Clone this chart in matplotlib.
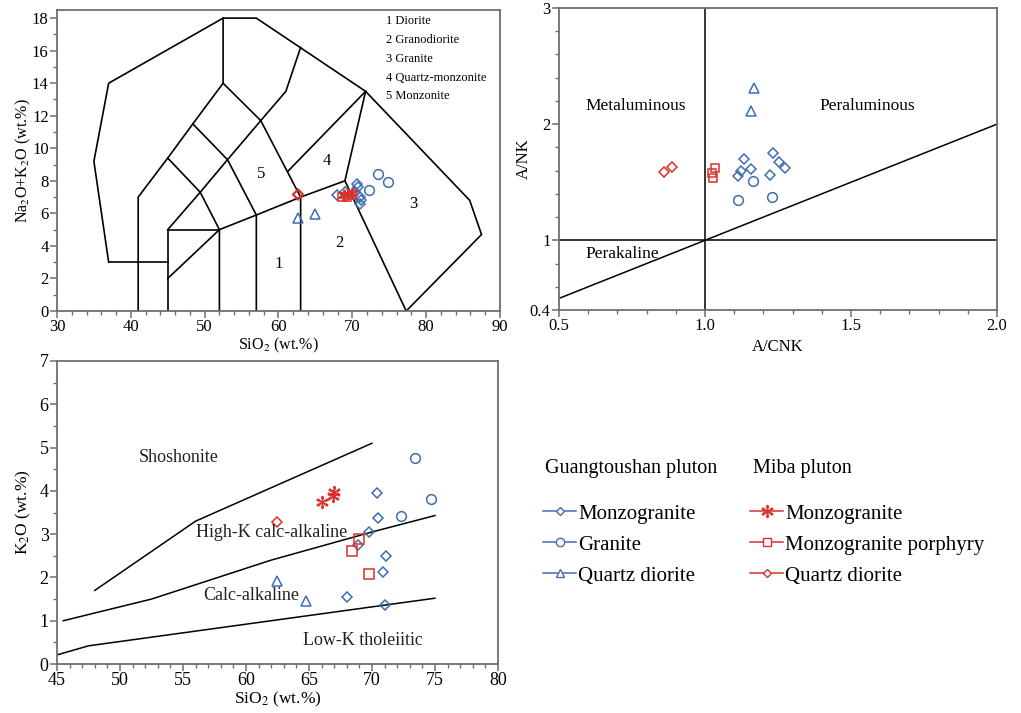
import numpy as np
import matplotlib
matplotlib.use("Agg")
import matplotlib.pyplot as plt
from matplotlib.lines import Line2D
from matplotlib.ticker import MultipleLocator, FixedLocator

plt.rcParams['font.family'] = ['Liberation Serif', 'DejaVu Serif']
plt.rcParams['mathtext.fontset'] = 'stix'

BLUE = '#3f6db3'
RED = '#d8312b'
SPINE = '#6e6e6e'

# ---- TAS (SiO2 vs Na2O+K2O) ----
tas_gt_mzg_x = [67.9, 69.0, 70.3, 70.6, 70.8, 71.0, 71.2, 71.0]
tas_gt_mzg_y = [7.1, 7.3, 7.3, 7.8, 7.6, 7.0, 6.8, 6.6]
tas_gt_gra_x = [72.3, 73.5, 74.8]
tas_gt_gra_y = [7.45, 8.4, 7.9]
tas_gt_qd_x = [62.6, 64.9]
tas_gt_qd_y = [5.7, 5.95]
tas_mb_mzg_x = [68.9, 69.4, 69.9]
tas_mb_mzg_y = [7.15, 7.2, 7.25]
tas_mb_por_x = [68.6, 69.3, 70.0]
tas_mb_por_y = [7.0, 7.0, 7.1]
tas_mb_qd_x = [62.6, 62.7]
tas_mb_qd_y = [7.2, 7.1]

# field boundaries (Middlemost 1994, plutonic)
tas_lines = [
    [(41, 0), (41, 7), (45, 9.4), (48.4, 11.5), (52.5, 14), (52.5, 18)],
    [(37, 3), (35, 9.2), (37, 14), (52.5, 18), (57, 18), (71.8, 13.5),
     (85.9, 6.8), (87.5, 4.7), (77.3, 0)],
    [(37, 3), (45, 3)],
    [(45, 0), (45, 5), (52, 5)],
    [(45, 2), (52, 5), (57, 5.9), (63, 7), (69, 8), (71.8, 13.5)],
    [(69, 8), (77.3, 0)],
    [(45, 5), (49.4, 7.3), (53.1, 9.3), (57.6, 11.7), (61, 13.5), (63, 16.2)],
    [(45, 9.4), (49.4, 7.3), (52, 5), (52, 0)],
    [(48.4, 11.5), (53.1, 9.3), (57, 5.9), (57, 0)],
    [(52.5, 14), (57.6, 11.7), (63, 7), (63, 0)],
    [(61.3, 8.6), (71.8, 13.5)],
]
tas_field_num = ['1', '2', '3', '4', '5']
tas_field_x = [60.0, 68.3, 78.2, 66.5, 57.6]
tas_field_y = [2.9, 4.2, 6.6, 9.2, 8.4]
tas_key = ['1 Diorite', '2 Granodiorite', '3 Granite', '4 Quartz-monzonite', '5 Monzonite']

# ---- A/CNK vs A/NK ----
acnk_gt_mzg_x = [1.133, 1.123, 1.112, 1.156, 1.233, 1.252, 1.275, 1.222]
acnk_gt_mzg_y = [1.70, 1.60, 1.55, 1.61, 1.75, 1.67, 1.62, 1.56]
acnk_gt_gra_x = [1.112, 1.163, 1.228]
acnk_gt_gra_y = [1.35, 1.51, 1.37]
acnk_gt_qd_x = [1.169, 1.156]
acnk_gt_qd_y = [2.31, 2.11]
acnk_mb_por_x = [1.034, 1.025, 1.028]
acnk_mb_por_y = [1.62, 1.58, 1.54]
acnk_mb_qd_x = [0.859, 0.886]
acnk_mb_qd_y = [1.59, 1.63]

# ---- SiO2 vs K2O ----
k_gt_mzg_x = [70.4, 70.5, 69.8, 68.9, 71.1, 70.9, 68.0, 71.0]
k_gt_mzg_y = [3.95, 3.37, 3.05, 2.75, 2.50, 2.12, 1.55, 1.37]
k_gt_gra_x = [73.4, 74.7, 72.3]
k_gt_gra_y = [4.77, 3.82, 3.43]
k_gt_qd_x = [62.5, 64.8]
k_gt_qd_y = [1.91, 1.46]
k_mb_mzg_x = [66.0, 66.9, 67.0]
k_mb_mzg_y = [3.75, 3.87, 3.98]
k_mb_por_x = [68.4, 69.0, 69.8]
k_mb_por_y = [2.62, 2.88, 2.08]
k_mb_qd_x = [62.5]
k_mb_qd_y = [3.29]

k_sho_x = [48, 56, 70]
k_sho_y = [1.7, 3.3, 5.1]
k_hk_x = [45.5, 52.5, 62, 70, 75]
k_hk_y = [1.0, 1.5, 2.4, 3.05, 3.43]
k_lk_x = [45, 47.5, 75]
k_lk_y = [0.21, 0.42, 1.52]

gt_styles = [('D', 5, 'Monzogranite'), ('o', 7, 'Granite'), ('^', 7, 'Quartz diorite')]
mb_styles = [('$\\ast$', 9, 'Monzogranite'), ('s', 7, 'Monzogranite porphyry'),
             ('D', 5, 'Quartz diorite')]


def pts(ax, x, y, marker, ms, color):
    if marker.startswith('$'):
        ax.plot(x, y, ls='none', marker=marker, ms=ms, color=color, mew=0.6)
    else:
        ax.plot(x, y, ls='none', marker=marker, ms=ms, mfc='none', mec=color, mew=1.1)


def style_axes(ax):
    for s in ax.spines.values():
        s.set_color(SPINE)
        s.set_linewidth(1.3)
    ax.tick_params(which='both', direction='out', top=False, right=False,
                   color=SPINE, labelsize=12, pad=1)
    ax.tick_params(which='major', length=5, width=1.1)
    ax.tick_params(which='minor', length=3, width=1.0)


fig = plt.figure(figsize=(10.21, 7.13), dpi=100)

# TAS panel
ax1 = fig.add_axes([0.0558, 0.5638, 0.4339, 0.4222])
for seg in tas_lines:
    xs, ys = zip(*seg)
    ax1.plot(xs, ys, color='black', lw=1.2, zorder=1)
for n, x, y in zip(tas_field_num, tas_field_x, tas_field_y):
    ax1.text(x, y, n, ha='center', va='center', fontsize=12)
for i, t in enumerate(tas_key):
    ax1.text(74.5, 17.8 - i * 1.15, t, ha='left', va='center', fontsize=9)
pts(ax1, tas_gt_mzg_x, tas_gt_mzg_y, 'D', 5, BLUE)
pts(ax1, tas_gt_gra_x, tas_gt_gra_y, 'o', 7, BLUE)
pts(ax1, tas_gt_qd_x, tas_gt_qd_y, '^', 7, BLUE)
pts(ax1, tas_mb_mzg_x, tas_mb_mzg_y, '$\\ast$', 8, RED)
pts(ax1, tas_mb_por_x, tas_mb_por_y, 's', 6, RED)
pts(ax1, tas_mb_qd_x, tas_mb_qd_y, 'D', 5, RED)
ax1.set_xlim(30, 90)
ax1.set_ylim(0, 18.5)
ax1.xaxis.set_major_locator(MultipleLocator(10))
ax1.xaxis.set_minor_locator(MultipleLocator(2))
ax1.yaxis.set_major_locator(MultipleLocator(2))
ax1.yaxis.set_minor_locator(MultipleLocator(1))
style_axes(ax1)
ax1.set_xlabel('SiO$_2$ (wt.%)', fontsize=11.5, labelpad=0)
ax1.set_ylabel('Na$_2$O+K$_2$O (wt.%)', fontsize=11.5)
ax1.yaxis.set_label_coords(-0.055, 0.5)

# A/CNK - A/NK panel
ax2 = fig.add_axes([0.5475, 0.5652, 0.429, 0.4236])
ax2.axvline(1.0, color='black', lw=1.1, zorder=1)
ax2.axhline(1.0, color='black', lw=1.1, zorder=1)
ax2.plot([0.5, 2.0], [0.5, 2.0], color='black', lw=1.1, zorder=1)
ax2.text(0.763, 2.16, 'Metaluminous', ha='center', va='center', fontsize=12.5)
ax2.text(1.555, 2.16, 'Peraluminous', ha='center', va='center', fontsize=12.5)
ax2.text(0.718, 0.88, 'Perakaline', ha='center', va='center', fontsize=12.5)
pts(ax2, acnk_gt_mzg_x, acnk_gt_mzg_y, 'D', 5, BLUE)
pts(ax2, acnk_gt_gra_x, acnk_gt_gra_y, 'o', 7, BLUE)
pts(ax2, acnk_gt_qd_x, acnk_gt_qd_y, '^', 7, BLUE)
pts(ax2, acnk_mb_por_x, acnk_mb_por_y, 's', 6, RED)
pts(ax2, acnk_mb_qd_x, acnk_mb_qd_y, 'D', 5, RED)
ax2.set_xlim(0.5, 2.0)
ax2.set_ylim(0.4, 3.0)
ax2.xaxis.set_major_locator(FixedLocator([0.5, 1.0, 1.5, 2.0]))
ax2.xaxis.set_minor_locator(FixedLocator(np.arange(0.5, 2.001, 0.1)))
ax2.yaxis.set_major_locator(FixedLocator([0.4, 1, 2, 3]))
ax2.yaxis.set_minor_locator(FixedLocator(np.arange(0.4, 3.01, 0.2)))
ax2.set_xticklabels(['0.5', '1.0', '1.5', '2.0'])
ax2.set_yticklabels(['0.4', '1', '2', '3'])
style_axes(ax2)
ax2.set_xlabel('A/CNK', fontsize=12, labelpad=3)
ax2.set_ylabel('A/NK', fontsize=12)
ax2.yaxis.set_label_coords(-0.062, 0.5)

# SiO2 - K2O panel
ax3 = fig.add_axes([0.0558, 0.0687, 0.4319, 0.425])
ax3.plot(k_sho_x, k_sho_y, color='black', lw=1.1, zorder=1)
ax3.plot(k_hk_x, k_hk_y, color='black', lw=1.1, zorder=1)
ax3.plot(k_lk_x, k_lk_y, color='black', lw=1.1, zorder=1)
lab_kw = dict(ha='center', va='center', fontsize=13, color='#222222')
ax3.text(54.7, 4.78, 'Shoshonite', **lab_kw)
ax3.text(62.0, 3.04, 'High-K calc-alkaline', **lab_kw)
ax3.text(60.4, 1.58, 'Calc-alkaline', **lab_kw)
ax3.text(69.3, 0.54, 'Low-K tholeiitic', **lab_kw)
pts(ax3, k_gt_mzg_x, k_gt_mzg_y, 'D', 5, BLUE)
pts(ax3, k_gt_gra_x, k_gt_gra_y, 'o', 7, BLUE)
pts(ax3, k_gt_qd_x, k_gt_qd_y, '^', 7, BLUE)
pts(ax3, k_mb_mzg_x, k_mb_mzg_y, '$\\ast$', 9, RED)
pts(ax3, k_mb_por_x, k_mb_por_y, 's', 7, RED)
pts(ax3, k_mb_qd_x, k_mb_qd_y, 'D', 5, RED)
ax3.set_xlim(45, 80)
ax3.set_ylim(0, 7)
ax3.xaxis.set_major_locator(MultipleLocator(5))
ax3.xaxis.set_minor_locator(MultipleLocator(1))
ax3.yaxis.set_major_locator(MultipleLocator(1))
ax3.yaxis.set_minor_locator(MultipleLocator(0.5))
style_axes(ax3)
ax3.tick_params(labelsize=13)
ax3.set_xlabel('SiO$_2$ (wt.%)', fontsize=12.5, labelpad=0)
ax3.set_ylabel('K$_2$O (wt.%)', fontsize=12.5)
ax3.yaxis.set_label_coords(-0.055, 0.5)

# legend
fig.text(545 / 1021, 1 - 469 / 713, 'Guangtoushan pluton', fontsize=14.5, va='center')
fig.text(753 / 1021, 1 - 469 / 713, 'Miba pluton', fontsize=14.5, va='center')


def handles(styles, color):
    out = []
    for m, ms, _ in styles:
        if m.startswith('$'):
            out.append(Line2D([], [], color=color, lw=1.1, marker=m, ms=ms, mew=0.6))
        else:
            out.append(Line2D([], [], color=color, lw=1.1, marker=m, ms=ms - 1,
                              mfc='white', mec=color, mew=1.0))
    return out


leg_kw = dict(frameon=False, fontsize=15, handlelength=1.6, handletextpad=0.1,
              labelspacing=0.55, borderpad=0, borderaxespad=0)
lg1 = fig.legend(handles(gt_styles, BLUE), [s[2] for s in gt_styles],
                 loc='upper left', bbox_to_anchor=(543 / 1021, 1 - 504 / 713), **leg_kw)
lg2 = fig.legend(handles(mb_styles, RED), [s[2] for s in mb_styles],
                 loc='upper left', bbox_to_anchor=(750 / 1021, 1 - 504 / 713), **leg_kw)

fig.savefig('out.png', dpi=100)
